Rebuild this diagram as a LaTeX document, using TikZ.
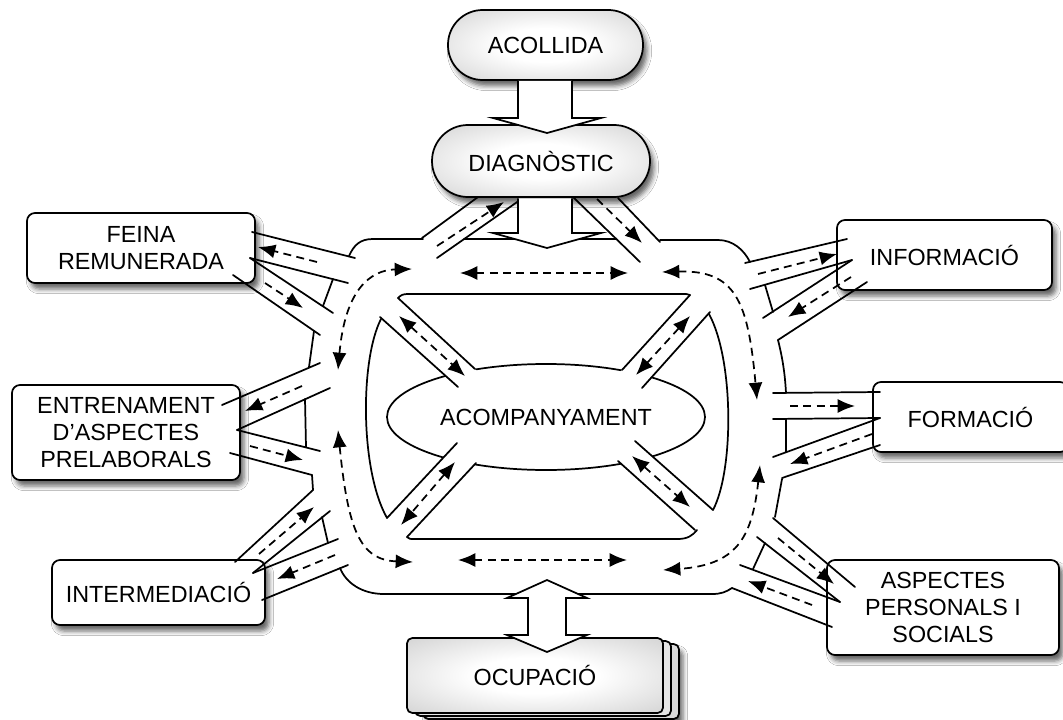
\documentclass[tikz,border=0pt]{standalone}
\usepackage{fontspec}
\setmainfont{Liberation Sans}
\usetikzlibrary{arrows.meta,shapes.geometric,shadows.blur}

\pgfdeclareradialshading{pillshade}{\pgfpoint{0bp}{0bp}}{color(0bp)=(white); color(12bp)=(white); color(50bp)=(black!27); color(72bp)=(black!38)}

\tikzset{
 ln/.style={line width=1.3pt, line cap=round, line join=round},
 tip/.style={},
 da/.style={line width=1.3pt, dash pattern=on 6pt off 4pt, -{Latex[length=13pt,width=10.5pt]}},
 dda/.style={line width=1.3pt, dash pattern=on 6pt off 4pt, {Latex[length=13pt,width=10.5pt]}-{Latex[length=13pt,width=10.5pt]}},
 shd/.style={blur shadow={shadow xshift=3pt, shadow yshift=-4.5pt, shadow blur radius=3.5pt, shadow opacity=60}},
 sbox/.style={draw, line width=1.3pt, fill=white, rounded corners=6pt, align=center,
   font=\fontsize{17.5}{20}\selectfont, inner sep=0pt, shd},
 pillbox/.style={sbox, shading=pillshade},
 blk/.style={draw, line width=1.3pt, fill=white, line join=miter},
}

\begin{document}
\begin{tikzpicture}[x=0.75pt,y=-0.75pt]
\fill[white] (0,0) rectangle (1063,720);
\useasboundingbox (0,0) rectangle (1063,720);

% ---------- outer ring boundary segments ----------
\draw[ln] (349,256) .. controls (354,245) and (360,239) .. (373,239) -- (423,239);
\draw[ln] (464,239) -- (516,239);
\draw[ln] (578,239) -- (616,239);
\draw[ln] (660,240) -- (718,240) .. controls (733,240) and (744,250) .. (750,262);
\draw[ln] (765,285) -- (773,312);
\draw[ln] (778,340) .. controls (783,360) and (785,375) .. (786,393);
\draw[ln] (786,419) -- (786,452);
\draw[ln] (782,479) -- (775,517);
\draw[ln] (765,543) -- (753,569);
\draw[ln] (732,588) .. controls (726,592) and (721,594) .. (712,594) -- (384,594) .. controls (362,594) and (346,583) .. (340,568);
\draw[ln] (322,517) -- (328,543);
\draw[ln] (312,475) -- (313,490);
\draw[ln] (305,399) -- (306,447);
\draw[ln] (314,331) -- (309,367);
\draw[ln] (333,279) -- (323,306);

% ---------- ring dashed arrows ----------
\draw[dda] (338,370) .. controls (345,290) and (370,270) .. (412,269);
\draw[dda] (460,273) -- (628,273);
\draw[dda] (662,272) .. controls (735,270) and (748,300) .. (757,400);
\draw[dda] (760,465) .. controls (752,540) and (735,565) .. (663,570);
\draw[dda] (458,560) -- (627,560);
\draw[dda] (338,430) .. controls (348,530) and (360,560) .. (413,562);

% ---------- centre ----------
\node[ellipse, draw, line width=1.3pt, fill=white, minimum width=238.5pt, minimum height=79.5pt,
  inner sep=0pt, font=\fontsize{17.5}{20}\selectfont] (acomp) at (546,417) {ACOMPANYAMENT};

\fill[white] (398,298) -- (477,371) -- (460,389) -- (380,317) -- cycle;
\fill[white] (690,295) -- (620,372) -- (640,390) -- (710,312) -- cycle;
\fill[white] (459,441) -- (387,518) -- (407,537) -- (478,461) -- cycle;
\fill[white] (633,439) -- (713,510) -- (695,530) -- (616,459) -- cycle;

\draw[ln] (398,298) .. controls (401,295) and (403,294) .. (408,294) -- (682,294) .. controls (686,294) and (688,294) .. (690,295);
\draw[ln] (381,319) .. controls (360,360) and (360,470) .. (387,518);
\draw[ln] (407,537) .. controls (409,539) and (410,539) .. (414,539) -- (678,539) .. controls (688,539) and (693,535) .. (697,530);
\draw[ln] (709,314) .. controls (734,360) and (734,470) .. (713,510);

\draw[ln] (398,298) -- (475,369);
\draw[ln] (380,317) -- (458,387);
\draw[ln] (690,295) -- (622,370);
\draw[ln] (710,312) -- (642,388);
\draw[ln] (457,443) -- (387,518);
\draw[ln] (476,463) -- (407,537);
\draw[ln] (635,441) -- (713,510);
\draw[ln] (618,461) -- (695,530);

\draw[dda] (399,316) -- (465,376);
\draw[dda] (690,316) -- (636,375);
\draw[dda] (455,462) -- (401,525);
\draw[dda] (632,456) -- (690,507);

% ---------- side boxes ----------
\node[sbox, minimum width=171pt, minimum height=52.5pt] (feina) at (141,248) {FEINA\\REMUNERADA};
\node[sbox, minimum width=171pt, minimum height=71.25pt] (entr) at (126,432.5) {ENTRENAMENT\\D'ASPECTES\\PRELABORALS};
\node[sbox, minimum width=159.75pt, minimum height=48.75pt] (inter) at (158.5,592.5) {INTERMEDIACIÓ};
\node[sbox, minimum width=161.25pt, minimum height=52.5pt] (info) at (944.5,255) {INFORMACIÓ};
\node[sbox, minimum width=146.25pt, minimum height=52.5pt] (form) at (970.5,417) {FORMACIÓ};
\node[sbox, minimum width=174pt, minimum height=71.25pt] (asp) at (943,607.5) {ASPECTES\\PERSONALS I\\SOCIALS};

% ---------- top pills ----------
\node[pillbox, rounded corners=26pt, minimum width=146.25pt, minimum height=52.5pt] (acol) at (545.5,45) {ACOLLIDA};
\node[pillbox, rounded corners=27pt, minimum width=163.5pt, minimum height=54pt] (diag) at (541,161) {DIAGNÒSTIC};

% ---------- roads to the side boxes ----------
% feina
\draw[ln] (252,232) -- (355,258);
\draw[ln] (250,258) -- (348,283);
\draw[ln] (250,258) -- (333,313);
\draw[ln] (233,275) -- (320,335);
\draw[da] (317,262) -- (258,247);
\draw[da] (265,283) -- (303,308);
% entrenament
\draw[ln] (222,405) -- (320,363);
\draw[ln] (237,430) -- (330,388);
\draw[ln] (237,430) -- (320,451);
\draw[ln] (230,453) -- (312,475);
\draw[da] (302,386) -- (245,411);
\draw[da] (250,446) -- (303,460);
% intermediacio
\draw[ln] (235,562) -- (313,490);
\draw[ln] (253,573) -- (330,511);
\draw[ln] (253,573) -- (338,539);
\draw[ln] (262,600) -- (348,565);
\draw[da] (259,554) -- (314,507);
\draw[da] (335,555) -- (277,579);
% diagnostic
\draw[ln] (478,197) -- (422,238);
\draw[ln] (520,200) -- (437,258);
\draw[ln] (573,197) -- (640,262);
\draw[ln] (618,198) -- (660,242);
\draw[da] (437,246) -- (504,202);
\draw[da] (597,199) -- (642,243);
% informacio
\draw[ln] (847,239) -- (745,263);
\draw[ln] (852,260) -- (750,289);
\draw[ln] (852,260) -- (763,318);
\draw[ln] (867,282) -- (778,340);
\draw[da] (758,274) -- (837,254);
\draw[da] (851,277) -- (788,317);
% formacio
\draw[ln] (880,392) -- (773,393);
\draw[ln] (880,418) -- (773,419);
\draw[ln] (880,418) -- (773,457);
\draw[ln] (880,445) -- (782,478);
\draw[da] (790,406) -- (855,406);
\draw[da] (872,434) -- (790,464);
% aspectes
\draw[ln] (855,587) -- (773,518);
\draw[ln] (840,602) -- (757,537);
\draw[ln] (840,602) -- (740,565);
\draw[ln] (832,627) -- (732,588);
\draw[da] (778,538) -- (834,584);
\draw[da] (812,605) -- (748,581);

% ---------- block arrows ----------
\draw[blk] (518,81) -- (518,118) -- (493,118) -- (547,133) -- (601,118) -- (572,118) -- (572,81);
\draw[blk] (518,198.5) -- (518,233) -- (493,233) -- (547,248) -- (601,233) -- (572,233) -- (572,198.5);

% ---------- ocupacio ----------
\draw[line width=1.3pt, fill=black!14, rounded corners=4pt, shd] (423,644) rectangle (679,719);
\draw[line width=1.3pt, fill=black!10, rounded corners=4pt] (415,641) rectangle (671,716);
\node[draw, line width=1.3pt, shading=pillshade, rounded corners=4pt, minimum width=192pt, minimum height=56.25pt,
  inner sep=0pt, font=\fontsize{17.5}{20}\selectfont] (ocup) at (535,675.5) {OCUPACIÓ};
\draw[blk] (547,580) -- (587,598) -- (566,598) -- (566,635) -- (587,635) -- (547,652) -- (507,635) -- (528,635) -- (528,598) -- (507,598) -- cycle;
\end{tikzpicture}
\end{document}
